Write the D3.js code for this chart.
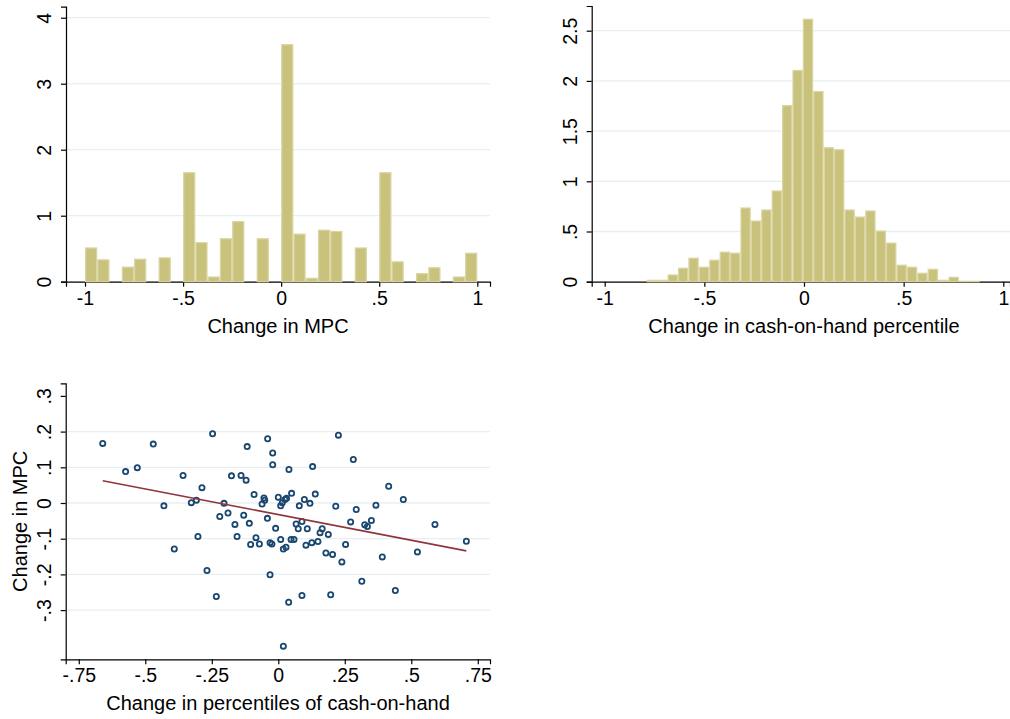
<!DOCTYPE html>
<html><head><meta charset="utf-8">
<script src="https://cdn.jsdelivr.net/npm/d3@7"></script>
<style>
body{margin:0;background:#fff;}
svg text{font-family:"Liberation Sans",Arial,sans-serif;fill:#000;}
</style></head>
<body><svg id="c" width="1010" height="719"></svg>
<script>
// ---------- data ----------
const mpcBinMin = -1, mpcBinWidth = 0.0625;
const mpcDensity = [0.52,0.34,0,0.23,0.35,0,0.37,0,1.66,0.60,0.08,0.66,0.92,0,0.66,0,
  3.60,0.73,0.06,0.79,0.77,0,0.52,0,1.66,0.31,0,0.13,0.22,0,0.08,0.44];
const cohBinMin = -0.789, cohBinWidth = 0.0522;
const cohDensity = [0.02,0.02,0.073,0.14,0.24,0.15,0.22,0.30,0.29,0.74,0.61,0.72,0.91,1.76,2.11,2.62,
  1.90,1.34,1.32,0.72,0.65,0.71,0.51,0.39,0.17,0.15,0.09,0.13,0.02,0.05,0.01,0.01];
const histXTicks = [-1,-0.5,0,0.5,1];
const histXLabels = ["-1","-.5","0",".5","1"];
const mpcYTicks = [0,1,2,3,4];
const mpcYLabels = ["0","1","2","3","4"];
const cohYTicks = [0,0.5,1,1.5,2,2.5];
const cohYLabels = ["0",".5","1","1.5","2","2.5"];
const scatterX = [-0.660,-0.574,-0.530,-0.470,-0.430,-0.391,-0.358,-0.327,-0.308,-0.302,-0.287,-0.268,-0.247,-0.233,
  -0.220,-0.204,-0.189,-0.176,-0.163,-0.155,-0.140,-0.130,-0.121,-0.117,-0.109,-0.104,
  -0.040,-0.021,-0.021,0.040,0.129,0.226,0.282,-0.091,-0.054,-0.051,-0.061,0.000,0.009,0.015,0.025,0.031,0.050,
  0.079,0.098,0.119,0.139,0.216,0.293,0.367,0.415,0.470,-0.041,-0.010,0.067,0.075,0.089,0.109,0.157,0.165,0.188,
  0.272,0.325,0.335,0.350,0.589,0.707,-0.084,-0.071,-0.031,-0.024,0.009,0.019,0.029,0.048,0.059,0.104,0.126,0.149,
  0.179,0.204,0.239,0.253,0.391,0.523,-0.031,0.314,0.440,0.039,0.089,0.197,0.019];
const scatterY = [0.167,0.088,0.099,0.165,-0.008,-0.129,0.077,0.001,0.008,-0.094,0.043,-0.189,0.194,-0.262,
  -0.038,-0.001,-0.028,0.076,-0.060,-0.094,0.077,-0.034,0.064,0.158,-0.057,-0.116,
  0.180,0.140,0.107,0.094,0.102,0.190,0.122,0.024,0.014,0.008,-0.003,0.016,-0.008,0.001,0.010,0.013,0.027,
  -0.008,0.010,-0.001,0.025,-0.009,-0.018,-0.006,0.047,0.010,-0.043,-0.071,-0.059,-0.072,-0.052,-0.072,-0.083,-0.072,-0.088,
  -0.053,-0.061,-0.066,-0.049,-0.060,-0.107,-0.097,-0.115,-0.111,-0.115,-0.102,-0.129,-0.124,-0.102,-0.102,-0.118,-0.111,-0.108,
  -0.140,-0.144,-0.165,-0.116,-0.151,-0.137,-0.201,-0.219,-0.245,-0.278,-0.259,-0.257,-0.401];
const fitX = [-0.660, 0.707];
const fitY = [0.0625, -0.134];
const scXTicks = [-0.75,-0.5,-0.25,0,0.25,0.5,0.75];
const scXLabels = ["-.75","-.5","-.25","0",".25",".5",".75"];
const scYTicks = [-0.3,-0.2,-0.1,0,0.1,0.2,0.3];
const scYLabels = ["-.3","-.2","-.1","0",".1",".2",".3"];
const scGridTicks = [-0.3,-0.2,-0.1,0,0.1,0.2];

// ---------- style ----------
const FS = 19.5;
const barFill = "#c9c27d", barStroke = "#dad5a2";
const gridColor = "#e8eff2";
const svg = d3.select("#c");
svg.append("rect").attr("width",1010).attr("height",719).attr("fill","#fff");

function axes(g, x, y, xt, xl, yt, yl, gridT, xTitle, yTitle, xTitleX){
  const [x0,x1] = x.range();
  const [yb,yt0] = y.range();
  g.append("g").selectAll("line").data(gridT).join("line")
    .attr("x1",x0).attr("x2",x1).attr("y1",d=>y(d)).attr("y2",d=>y(d))
    .attr("stroke",gridColor).attr("stroke-width",1.3);
  const ax = g.append("g").attr("transform",`translate(0,${yb})`)
    .call(d3.axisBottom(x).tickValues(xt).tickFormat((d,i)=>xl[i]).tickSizeOuter(0).tickSize(5).tickPadding(5));
  ax.selectAll("text").attr("font-size",FS).attr("dy","0.71em").attr("y",9);
  const ay = g.append("g").attr("transform",`translate(${x0},0)`)
    .call(d3.axisLeft(y).tickValues(yt).tickFormat((d,i)=>yl[i]).tickSizeOuter(0).tickSize(5));
  ay.selectAll("text").attr("font-size",FS).attr("transform","rotate(-90)")
    .attr("x",0).attr("y",-15).attr("dy",0).style("text-anchor","middle");
  [ax,ay].forEach(a=>{a.select(".domain").attr("stroke","#000").attr("stroke-width",1.2);
    a.selectAll(".tick line").attr("stroke","#000").attr("stroke-width",1.2);});
  g.append("text").attr("x",xTitleX).attr("y",yb+51).attr("text-anchor","middle")
    .attr("font-size",FS+0.5).text(xTitle);
  if(yTitle){
    g.append("text").attr("transform",`translate(${x0-39},${(yb+yt0)/2}) rotate(-90)`)
      .attr("text-anchor","middle").attr("font-size",FS+0.5).text(yTitle);
  }
}

function hist(g, x, y, dens, bmin, bw){
  g.append("g").selectAll("rect").data(dens).join("rect")
    .attr("x",(d,i)=>x(bmin+i*bw)+0.6)
    .attr("width",(d,i)=>x(bmin+(i+1)*bw)-x(bmin+i*bw)-1.2)
    .attr("y",d=>y(d)+0.6)
    .attr("height",d=>Math.max(0,y(0)-y(d)-0.6))
    .attr("fill",barFill).attr("stroke",barStroke).attr("stroke-width",1.2);
}

// Panel 1
{
  const x = d3.scaleLinear().domain([-1.0969,1.0647]).range([66,490]);
  const y = d3.scaleLinear().domain([0,4.167]).range([281.7,6.7]);
  const g = svg.append("g");
  axes(g,x,y,histXTicks,histXLabels,mpcYTicks,mpcYLabels,mpcYTicks.filter(d=>d>0),"Change in MPC",null,278);
  hist(g,x,y,mpcDensity,mpcBinMin,mpcBinWidth);
}
// Panel 2
{
  const x = d3.scaleLinear().domain([-1.0652,1.0336]).range([591.7,1010]);
  const y = d3.scaleLinear().domain([0,2.746]).range([281.7,6]);
  const g = svg.append("g");
  axes(g,x,y,histXTicks,histXLabels,cohYTicks,cohYLabels,cohYTicks.filter(d=>d>0),"Change in cash-on-hand percentile",null,804);
  hist(g,x,y,cohDensity,cohBinMin,cohBinWidth);
}
// Panel 3
{
  const x = d3.scaleLinear().domain([-0.7992,0.7959]).range([65.7,490]);
  const y = d3.scaleLinear().domain([-0.4378,0.3353]).range([659.3,383.3]);
  const g = svg.append("g");
  axes(g,x,y,scXTicks,scXLabels,scYTicks,scYLabels,scGridTicks,"Change in percentiles of cash-on-hand","Change in MPC",278);
  const pts = scatterX.map((d,i)=>[d,scatterY[i]]);
  g.append("g").selectAll("circle").data(pts).join("circle")
    .attr("cx",d=>x(d[0])).attr("cy",d=>y(d[1])).attr("r",2.6)
    .attr("fill","none").attr("stroke","#1a476f").attr("stroke-width",1.8);
  g.append("path").datum(fitX.map((d,i)=>[d,fitY[i]]))
    .attr("d",d3.line().x(d=>x(d[0])).y(d=>y(d[1])))
    .attr("stroke","#90353b").attr("stroke-width",1.6).attr("fill","none");
}
</script></body></html>
